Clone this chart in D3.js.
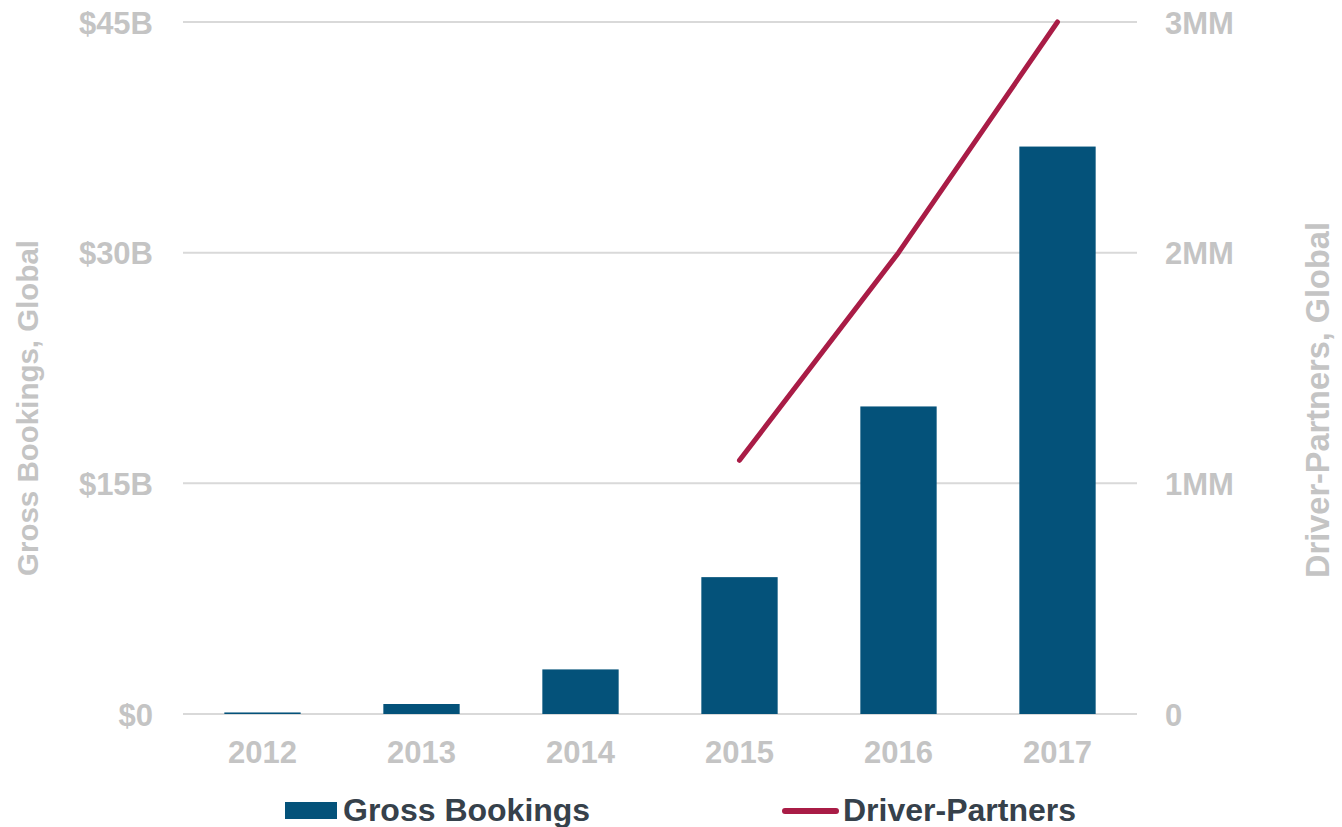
<!DOCTYPE html>
<html>
<head>
<meta charset="utf-8">
<script src="https://cdn.jsdelivr.net/npm/d3@7"></script>
<style>
  body { margin: 0; background: #fff; }
  text { font-family: "Liberation Sans", Arial, sans-serif; font-weight: bold; }
</style>
</head>
<body>
<div id="chart"></div>
<script>
const years = ["2012", "2013", "2014", "2015", "2016", "2017"];
const grossBookings = [0.1, 0.65, 2.9, 8.9, 20.0, 36.9]; // $B
const driverYears = ["2015", "2016", "2017"];
const driverPartners = [1.1, 2.0, 3.0]; // MM
const leftTicks = [0, 15, 30, 45];
const rightTicks = [0, 1, 2, 3];

const W = 1342, H = 827;
const margin = { top: 22, right: 205, bottom: 113, left: 183 };
const width = W - margin.left - margin.right;
const height = H - margin.top - margin.bottom;

const tickColor = "#c4c4c4";

const svg = d3.select("#chart").append("svg")
  .attr("width", W).attr("height", H);

const g = svg.append("g")
  .attr("transform", "translate(" + margin.left + "," + margin.top + ")");

const x = d3.scaleBand().domain(years).range([0, width])
  .paddingInner(0.52).paddingOuter(0.26);
const yL = d3.scaleLinear().domain([0, 45]).range([height, 0]);
const yR = d3.scaleLinear().domain([0, 3]).range([height, 0]);

// gridlines
g.selectAll(".grid").data(leftTicks).enter().append("line")
  .attr("x1", 0).attr("x2", width)
  .attr("y1", d => yL(d)).attr("y2", d => yL(d))
  .attr("stroke", "#d9d9d9").attr("stroke-width", 2);

// bars
g.selectAll(".bar").data(years).enter().append("rect")
  .attr("x", d => x(d))
  .attr("width", x.bandwidth())
  .attr("y", (d, i) => yL(grossBookings[i]))
  .attr("height", (d, i) => height - yL(grossBookings[i]))
  .attr("fill", "#04527a");

// line
const line = d3.line()
  .x((d, i) => x(driverYears[i]) + x.bandwidth() / 2)
  .y(d => yR(d));
g.append("path").datum(driverPartners)
  .attr("d", line)
  .attr("fill", "none")
  .attr("stroke", "#a91c46")
  .attr("stroke-width", 5)
  .attr("stroke-linecap", "round")
  .attr("stroke-linejoin", "round");

// left axis
const axL = g.append("g").attr("transform", "translate(-27,0)")
  .call(d3.axisLeft(yL).tickValues(leftTicks).tickSize(0).tickFormat(d => "$" + d + (d === 0 ? "" : "B")));
axL.select(".domain").remove();
axL.selectAll("text").attr("fill", tickColor).style("font-size", "31px")
  .attr("dy", "0.36em");

// right axis
const axR = g.append("g").attr("transform", "translate(" + (width + 25) + ",0)")
  .call(d3.axisRight(yR).tickValues(rightTicks).tickSize(0).tickFormat(d => d === 0 ? "0" : d + "MM"));
axR.select(".domain").remove();
axR.selectAll("text").attr("fill", tickColor).style("font-size", "31px")
  .attr("dy", "0.36em");

// x axis
const axX = g.append("g").attr("transform", "translate(0," + height + ")")
  .call(d3.axisBottom(x).tickSize(0).tickPadding(27));
axX.select(".domain").remove();
axX.selectAll("text").attr("fill", tickColor).style("font-size", "31px")
  .attr("dy", "0.71em");

// axis titles
svg.append("text")
  .attr("transform", "translate(38,408) rotate(-90)")
  .attr("text-anchor", "middle")
  .attr("fill", tickColor).style("font-size", "29.5px")
  .text("Gross Bookings, Global");
svg.append("text")
  .attr("transform", "translate(1329,400) rotate(-90)")
  .attr("text-anchor", "middle")
  .attr("fill", tickColor).style("font-size", "32.5px")
  .text("Driver-Partners, Global");

// legend
const legend = svg.append("g");
legend.append("rect")
  .attr("x", 285).attr("y", 802).attr("width", 52).attr("height", 17)
  .attr("fill", "#04527a");
legend.append("text")
  .attr("x", 343).attr("y", 821)
  .attr("fill", "#36414b").style("font-size", "32px")
  .text("Gross Bookings");
legend.append("line")
  .attr("x1", 785).attr("x2", 836).attr("y1", 811).attr("y2", 811)
  .attr("stroke", "#a91c46").attr("stroke-width", 6)
  .attr("stroke-linecap", "round");
legend.append("text")
  .attr("x", 843).attr("y", 821)
  .attr("fill", "#36414b").style("font-size", "32px")
  .text("Driver-Partners");
</script>
</body>
</html>
